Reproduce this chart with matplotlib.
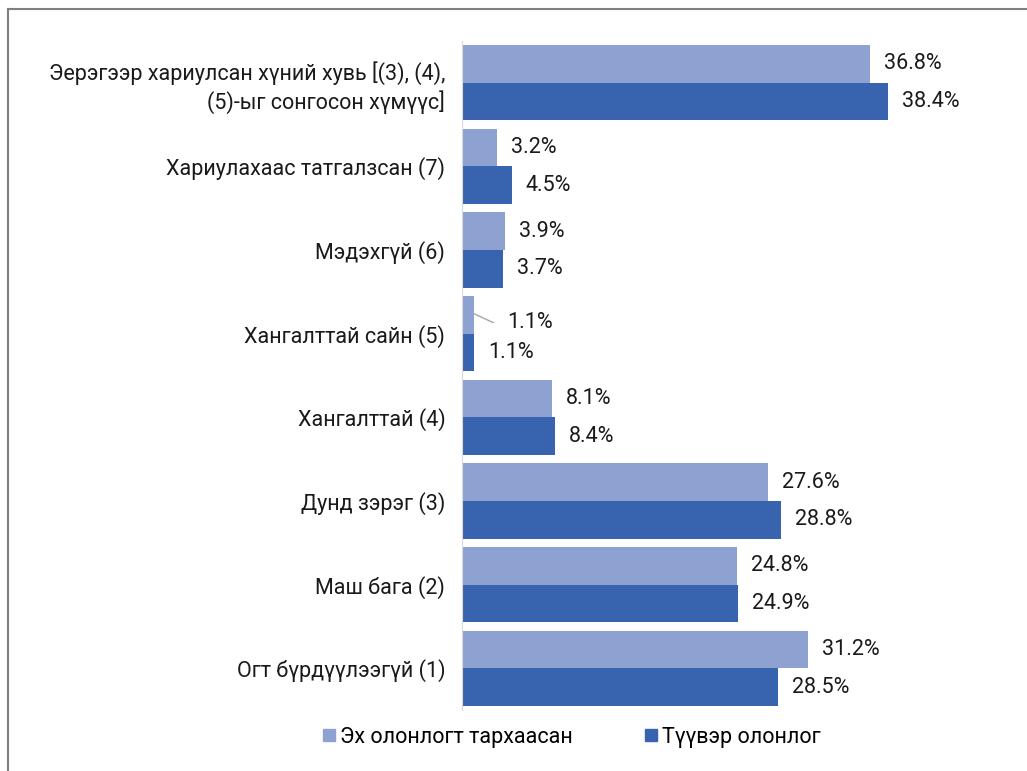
import matplotlib
matplotlib.use("Agg")
import matplotlib.pyplot as plt
from matplotlib.lines import Line2D
import numpy as np

categories = [
    "Эерэгээр хариулсан хүний хувь [(3), (4),\n(5)-ыг сонгосон хүмүүс]",
    "Хариулахаас татгалзсан (7)",
    "Мэдэхгүй (6)",
    "Хангалттай сайн (5)",
    "Хангалттай (4)",
    "Дунд зэрэг (3)",
    "Маш бага (2)",
    "Огт бүрдүүлээгүй (1)",
]
population = [36.8, 3.2, 3.9, 1.1, 8.1, 27.6, 24.8, 31.2]
sample = [38.4, 4.5, 3.7, 1.1, 8.4, 28.8, 24.9, 28.5]
series_names = ["Эх олонлогт тархаасан", "Түүвэр олонлог"]
colors = ["#8EA2D1", "#3863AE"]

plt.rcParams['font.family'] = ['Roboto', 'DejaVu Sans']
FS = 15.5

fig = plt.figure(figsize=(10.27, 7.71), dpi=100)
ax = fig.add_axes([462/1027, 1 - 710/771, (1005-462)/1027, (710-41)/771])

n = len(categories)
y = np.arange(n)
h = 0.45
ax.barh(y - h/2, population, height=h, color=colors[0])
ax.barh(y + h/2, sample, height=h, color=colors[1])
ax.set_ylim(n - 0.5, -0.5)
ax.set_xlim(0, (1005-462)/11.09)
ax.set_yticks(y)
ax.set_yticklabels(categories, fontsize=FS, color="#1a1a1a", linespacing=1.25)
ax.tick_params(axis='y', length=0, pad=12)
ax.set_xticks([])
for s in ["top", "right", "bottom"]:
    ax.spines[s].set_visible(False)
ax.spines["left"].set_color("#d9d9d9")

for i in range(n):
    if population[i] < 2:
        ax.annotate(f"{population[i]:.1f}%", xy=(population[i]*0.9, y[i]-h/2 - 0.02),
                    xytext=(4.1, y[i]-h/2 + 0.09),
                    fontsize=FS, va='center', ha='left', color="#1a1a1a",
                    arrowprops=dict(arrowstyle='-', color='#a6a6a6', lw=1,
                                    connectionstyle="angle,angleA=0,angleB=-25,rad=0",
                                    shrinkA=8, shrinkB=0))
    else:
        ax.annotate(f"{population[i]:.1f}%", xy=(population[i], y[i]-h/2),
                    xytext=(14, 0), textcoords='offset pixels',
                    fontsize=FS, va='center', ha='left', color="#1a1a1a")
    ax.annotate(f"{sample[i]:.1f}%", xy=(sample[i], y[i]+h/2),
                xytext=(14, 0), textcoords='offset pixels',
                fontsize=FS, va='center', ha='left', color="#1a1a1a")

handles = [Line2D([], [], marker='s', linestyle='none', markersize=9,
                  markerfacecolor=c, markeredgecolor=c) for c in colors]
fig.legend(handles, series_names, loc='center', bbox_to_anchor=(0.555, 1 - 737/771),
           ncol=2, frameon=False, fontsize=FS, handletextpad=0.05, columnspacing=3.2,
           handlelength=0.9)

fig.add_artist(Line2D([8/1027, 1], [1 - 9/771, 1 - 9/771], color="#7f7f7f", lw=1.5,
                      transform=fig.transFigure))
fig.add_artist(Line2D([8/1027, 8/1027], [0, 1 - 9/771], color="#7f7f7f", lw=1.5,
                      transform=fig.transFigure))

fig.savefig("out.png", dpi=100, facecolor="white")
